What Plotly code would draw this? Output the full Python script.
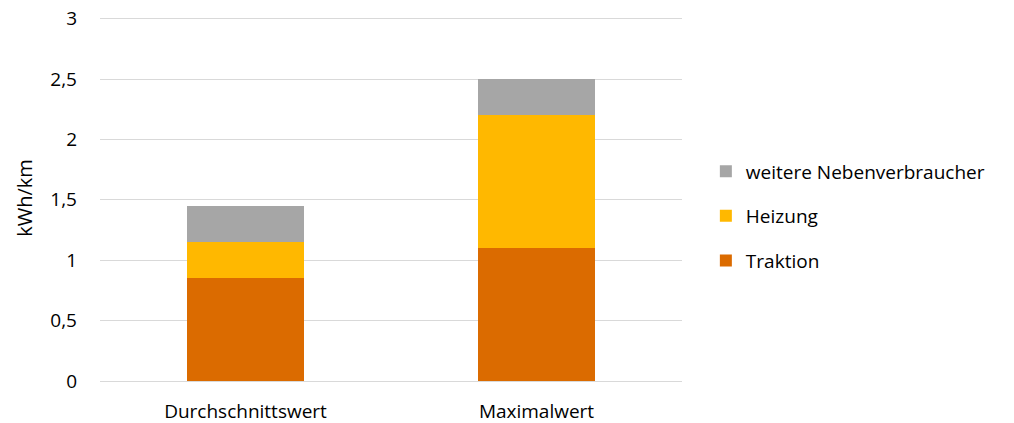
import plotly.graph_objects as go

categories = ["Durchschnittswert", "Maximalwert"]
traktion = [0.85, 1.1]
heizung = [0.3, 1.1]
weitere = [0.3, 0.3]

series = [
    ("Traktion", traktion, "#DB6B00", 3),
    ("Heizung", heizung, "#FFB800", 2),
    ("weitere Nebenverbraucher", weitere, "#A6A6A6", 1),
]

FONT = "Open Sans, sans-serif"

fig = go.Figure()
for i, (name, vals, col, rank) in enumerate(series):
    fig.add_trace(go.Bar(x=categories, y=vals, name=name, marker_color=col,
                         marker_line_width=0, legendgroup=str(i),
                         legendrank=rank))

fig.update_layout(
    barmode="stack",
    bargap=0.6,
    width=1014, height=423,
    margin=dict(l=100, r=332, t=15, b=42, autoexpand=False),
    paper_bgcolor="white", plot_bgcolor="white",
    separators=",.",
    font=dict(family=FONT, size=19, color="#000000"),
    legend=dict(traceorder="grouped", tracegroupgap=17,
                x=1.041, xanchor="left", y=0.45, yanchor="middle",
                font=dict(size=19), itemwidth=30),
    showlegend=True,
)
fig.update_xaxes(showline=True, linecolor="#D9D9D9", linewidth=1, automargin=False,
                 ticks="", ticklabelstandoff=13, tickfont=dict(size=19))
fig.update_yaxes(range=[0, 3.03], tickvals=[0, 0.5, 1, 1.5, 2, 2.5, 3],
                 tickformat="~g", showgrid=True, automargin=False,
                 gridcolor="#D9D9D9", gridwidth=1, zeroline=False,
                 ticklabelstandoff=22, tickfont=dict(size=19),
                 title=dict(text="kWh/km", font=dict(size=20), standoff=12))

fig.write_html("out.html")
